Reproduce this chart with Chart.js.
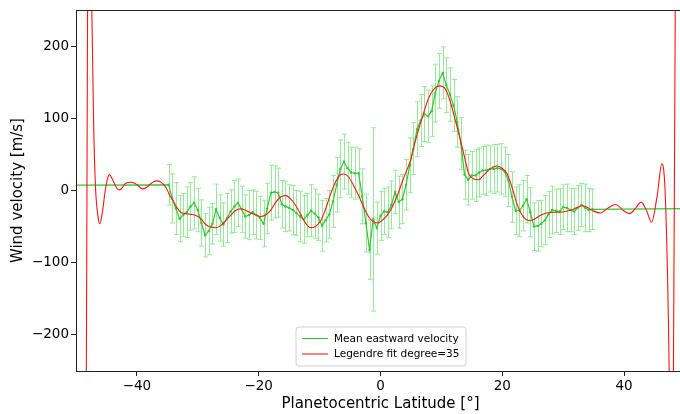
<!DOCTYPE html>
<html><head><meta charset="utf-8">
<script src="https://cdn.jsdelivr.net/npm/chart.js@4.4.1/dist/chart.umd.min.js"></script>
<style>
html,body{margin:0;padding:0;background:#fff;overflow:hidden;width:680px;height:414px}
#wrap{position:relative;width:690px;height:414px}
canvas{display:block}
</style></head><body>
<div id="wrap"><canvas id="c" width="690" height="414"></canvas></div>
<script>
// ---- data ----
const latitudes = [
-34.8,-34.2,-33.6,-33.0,-32.4,-31.8,-31.2,-30.6,-30.0,-29.4,
-28.8,-28.2,-27.6,-27.0,-26.4,-25.8,-25.2,-24.6,-24.0,-23.4,
-22.8,-22.2,-21.6,-21.0,-20.4,-19.8,-19.2,-18.6,-18.0,-17.4,
-16.8,-16.2,-15.6,-15.0,-14.4,-13.8,-13.2,-12.6,-12.0,-11.4,
-10.8,-10.2,-9.6,-9.0,-8.4,-7.8,-7.2,-6.6,-6.0,-5.4,
-4.8,-4.2,-3.6,-3.0,-2.4,-1.8,-1.2,-0.6,0.0,0.6,
1.2,1.8,2.4,3.0,3.6,4.2,4.8,5.4,6.0,6.6,
7.2,7.8,8.4,9.0,9.6,10.2,10.8,11.4,12.0,12.6,
13.2,13.8,14.4,15.0,15.6,16.2,16.8,17.4,18.0,18.6,
19.2,19.8,20.4,21.0,21.6,22.2,22.8,23.4,24.0,24.6,
25.2,25.8,26.4,27.0,27.6,28.2,28.8,29.4,30.0,30.6,
31.2,31.8,32.4,33.0,33.6,34.2,34.8];
const meanVelocity = [
8,-11,-25,-39,-34,-30,-22,-17,-27,-45,
-62,-56,-46,-26,-38,-47,-38,-29,-22,-17,
-26,-36,-34,-30,-34,-38,-46,-25,-3,-2,
-3,-19,-22,-24,-27,-31,-36,-40,-34,-28,
-32,-37,-49,-41,-33,-15,8,30,40,31,
25,24,24,-8,-45,-82,-40,-52,-35,-29,
-30,-20,-2,-16,-12,8,35,58,85,97,
106,103,110,135,152,163,146,133,118,95,
65,22,15,21,21,25,28,28,30,30,
31,30,26,14,-9,-28,-28,-21,-12,-30,
-50,-49,-46,-41,-33,-27,-28,-29,-23,-24,
-27,-29,-24,-20,-24,-27,-26];
const velocityError = [
28,34,36,32,30,35,33,36,30,32,
30,33,28,35,32,30,34,30,36,33,
32,30,34,31,33,30,32,35,38,36,
34,33,35,32,34,31,35,33,30,36,
34,32,35,30,33,36,38,40,38,36,
35,36,34,38,40,41,127,36,34,32,
35,33,30,36,34,35,38,36,38,36,
38,36,35,40,38,36,38,37,36,35,
36,34,35,33,36,34,33,35,32,34,
33,35,34,36,35,33,36,35,33,34,
33,35,32,34,32,33,30,32,31,33,
30,32,31,30,33,30,28];
// constant padding of the mean profile outside the measured band
const padLatitudes = [-50, 50];
const padVelocity = [7.5, -25];

const fitLatitudes = [
-50,-49.2,-48.6,-48.3,-48.1,-47.75,-47.4,-47.1,-46.8,-46.4,
-46.1,-45.7,-45.2,-44.8,-44.5,-44.1,-43.6,-43.2,-42.8,-42.4,
-42.0,-41.5,-40.9,-40.4,-39.8,-39.4,-39.0,-38.5,-37.9,-37.3,
-36.8,-36.2,-35.7,-35.2,-34.6,-34.0,-33.4,-32.8,-32.0,-31.1,
-30.3,-29.5,-28.7,-27.9,-27.0,-26.2,-25.4,-24.6,-23.8,-23.0,
-22.1,-21.3,-20.5,-19.7,-18.9,-18.0,-17.2,-16.4,-15.6,-14.75,
-13.9,-13.1,-12.4,-11.5,-10.7,-9.8,-9.0,-8.2,-7.4,-6.6,
-6.0,-5.2,-4.4,-3.6,-2.7,-1.9,-1.1,-0.44,0.27,1.1,
1.9,2.7,3.55,4.4,4.9,5.4,6.0,7.1,7.9,8.7,
9.7,10.7,11.5,12.3,13.1,13.8,14.5,15.3,16.1,16.9,
18.0,19.1,19.95,20.8,21.6,22.4,23.5,24.3,25.1,26.2,
27.3,28.4,29.5,30.9,32.2,33.1,33.9,35.0,36.1,37.4,
38.6,39.9,40.9,41.8,42.8,43.7,44.5,45.4,46.2,46.7,
47.1,47.4,47.75,48.1,48.4,48.8,49.5];
const fitVelocity = [
-3000,-1200,-550,-250,250,550,250,90,5,-35,
-46,-32,0,17,22,17,8,2,1,4,
9,11,11.5,10,7,3.5,2.3,4,8,12,
13.4,12.5,9,4,-7,-15,-24,-30,-32,-33,
-34.5,-39,-47,-50.6,-51.5,-48.3,-41.4,-34.5,-27.6,-25.3,
-27.6,-31,-33.5,-36,-34,-27,-16,-9,-7,-11.5,
-21,-33,-44,-51.5,-49.7,-41.4,-25.3,-5,11.5,22,
23,18.4,6.5,-7,-24,-37,-43.7,-45,-41.4,-34.5,
-23,-8.3,11.5,30,41,58,77,108,128,140,
145,140,122,97,71,46,23,16,15,21,
30,34,31,23,4.6,-18.4,-36.8,-41.4,-40.5,-34.5,
-31,-30,-30,-28,-24,-21,-23,-28.5,-31,-24,
-19.3,-27.6,-32,-25.3,-16,-28,-44,-9,37,5,
-106,-250,-600,-250,250,900,3000];

const xTicks = [-40,-20,0,20,40];
const yTicks = [-200,-100,0,100,200];
const xRange = [-50, 50];
const yRange = [-250, 250];
const seriesNames = ['Mean eastward velocity', 'Legendre fit degree=35'];
const axisTitles = ['Planetocentric Latitude [°]', 'Wind velocity [m/s]'];

// ---- styles ----
const GREEN = 'rgb(50,200,50)';
const RED = 'rgb(255,20,20)';
const ERR = 'rgba(140,232,140,0.9)';
const FONT = "'DejaVu Sans', 'Liberation Sans', sans-serif";

const meanPoints = [{x: padLatitudes[0], y: padVelocity[0]}]
  .concat(latitudes.map((lat, i) => ({x: lat, y: meanVelocity[i]})))
  .concat([{x: padLatitudes[1], y: padVelocity[1]}]);
const fitPoints = fitLatitudes.map((lat, i) => ({x: lat, y: fitVelocity[i]}));

const fmt = v => (v < 0 ? '\u2212' + Math.abs(v) : String(v));

const errorBars = {
  id: 'errorBars',
  beforeDatasetsDraw(chart) {
    const {ctx, chartArea: a, scales: {x, y}} = chart;
    ctx.save();
    ctx.beginPath();
    ctx.rect(a.left, a.top, a.right - a.left, a.bottom - a.top);
    ctx.clip();
    ctx.strokeStyle = ERR;
    ctx.lineWidth = 1;
    latitudes.forEach((lat, i) => {
      const px = Math.round(x.getPixelForValue(lat)) + 0.5;
      const t = y.getPixelForValue(meanVelocity[i] + velocityError[i]);
      const b = y.getPixelForValue(meanVelocity[i] - velocityError[i]);
      ctx.beginPath();
      ctx.moveTo(px, t); ctx.lineTo(px, b);
      ctx.moveTo(px - 2.5, t); ctx.lineTo(px + 2.5, t);
      ctx.moveTo(px - 2.5, b); ctx.lineTo(px + 2.5, b);
      ctx.stroke();
    });
    ctx.restore();
  }
};

const frameAndLegend = {
  id: 'frameAndLegend',
  afterDraw(chart) {
    const {ctx, chartArea: a} = chart;
    ctx.save();
    ctx.strokeStyle = '#222';
    ctx.lineWidth = 1;
    ctx.strokeRect(Math.round(a.left) + 0.5, Math.round(a.top) + 0.5,
                   Math.round(a.right - a.left), Math.round(a.bottom - a.top));
    // legend box
    const bx = 296, by = 327, bw = 170, bh = 39, r = 3;
    ctx.beginPath();
    ctx.moveTo(bx + r, by);
    ctx.arcTo(bx + bw, by, bx + bw, by + bh, r);
    ctx.arcTo(bx + bw, by + bh, bx, by + bh, r);
    ctx.arcTo(bx, by + bh, bx, by, r);
    ctx.arcTo(bx, by, bx + bw, by, r);
    ctx.closePath();
    ctx.fillStyle = 'rgba(255,255,255,0.8)';
    ctx.fill();
    ctx.strokeStyle = '#d0d0d0';
    ctx.stroke();
    const colors = [GREEN, RED];
    ctx.font = '10.5px ' + FONT;
    ctx.textBaseline = 'middle';
    seriesNames.forEach((name, i) => {
      const yy = by + 11.5 + i * 15.5;
      ctx.strokeStyle = colors[i];
      ctx.lineWidth = 1.1;
      ctx.beginPath();
      ctx.moveTo(302, yy); ctx.lineTo(328, yy);
      ctx.stroke();
      ctx.fillStyle = '#000';
      ctx.fillText(name, 334, yy + 0.5);
    });
    ctx.restore();
  }
};

new Chart(document.getElementById('c'), {
  type: 'line',
  data: {
    datasets: [
      {
        label: seriesNames[1], data: fitPoints, order: 0,
        borderColor: RED, borderWidth: 1.1, pointRadius: 0,
        cubicInterpolationMode: 'monotone', fill: false
      },
      {
        label: seriesNames[0], data: meanPoints, order: 1,
        borderColor: GREEN, backgroundColor: GREEN, borderWidth: 1.2,
        pointRadius: c => (c.dataIndex === 0 || c.dataIndex === meanPoints.length - 1) ? 0 : 1.2,
        pointBorderWidth: 0, tension: 0, fill: false
      }
    ]
  },
  options: {
    responsive: false,
    animation: false,
    layout: {padding: {top: 8, right: 5, left: 0, bottom: 0}},
    plugins: {legend: {display: false}, tooltip: {enabled: false}},
    scales: {
      x: {
        type: 'linear', min: xRange[0], max: xRange[1],
        afterBuildTicks: s => { s.ticks = xTicks.map(v => ({value: v})); },
        afterFit: s => { s.height = 43; },
        grid: {display: true, drawOnChartArea: false, drawTicks: true, tickLength: 5, color: '#222'},
        border: {display: false},
        ticks: {color: '#000', font: {family: FONT, size: 13.5}, padding: 2, maxRotation: 0, callback: v => fmt(v)},
        title: {display: true, text: axisTitles[0], color: '#000', font: {family: FONT, size: 15}, padding: {top: 0, bottom: 1}}
      },
      y: {
        type: 'linear', min: yRange[0], max: yRange[1],
        afterBuildTicks: s => { s.ticks = yTicks.map(v => ({value: v})); },
        afterFit: s => { s.width = 76; },
        grid: {display: true, drawOnChartArea: false, drawTicks: true, tickLength: 5, color: '#222'},
        border: {display: false},
        ticks: {color: '#000', font: {family: FONT, size: 13.5}, padding: 2, callback: v => fmt(v)},
        title: {display: true, text: axisTitles[1], color: '#000', font: {family: FONT, size: 15}, padding: {top: 9, bottom: 0}}
      }
    }
  },
  plugins: [errorBars, frameAndLegend]
});
</script>
</body></html>
